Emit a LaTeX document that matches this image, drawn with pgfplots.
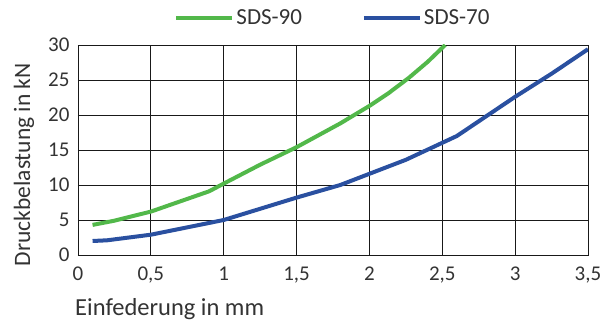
\documentclass[border=0pt]{standalone}
\usepackage{fontspec}
\setmainfont{Carlito}
\usepackage{pgfplots}
\pgfplotsset{compat=1.18}
\definecolor{sdsgreen}{RGB}{82,184,74}
\definecolor{sdsblue}{RGB}{42,80,160}
\begin{document}
\begin{tikzpicture}
\useasboundingbox (-78pt,-69pt) rectangle (533pt,255pt);
\begin{axis}[
  at={(0,0)}, anchor=south west,
  scale only axis, width=510pt, height=210pt,
  xmin=0, xmax=3.5, ymin=0, ymax=30,
  xtick distance=0.5, ytick distance=5,
  grid=major, major grid style={black!90, line width=0.8pt},
  axis line style={black!90, line width=0.8pt},
  major tick length=0pt,
  /pgf/number format/assume math mode=true,
  /pgf/number format/use comma,
  /pgf/number format/1000 sep={},
  tick label style={font=\fontsize{21}{24}\selectfont, text=black!80},
  xticklabel style={yshift=-8pt},
  yticklabel style={xshift=-5pt},
  xlabel={Einfederung in mm},
  ylabel={Druckbelastung in kN},
  xlabel style={font=\fontsize{24.5}{28}\selectfont, text=black!80, at={(axis description cs:0,0)}, anchor=north west, inner sep=0pt, yshift=-43pt, xshift=-3pt},
  ylabel style={font=\fontsize{23.5}{28}\selectfont, text=black!80, at={(axis description cs:-0.106,0.43)}, anchor=center, inner sep=0pt},
  legend columns=2,
  legend style={draw=none, fill=none, at={(axis description cs:0.5,1.13)}, anchor=center,
    font=\fontsize{23}{26}\selectfont, text=black!80,
    /tikz/every even column/.append style={column sep=58pt}},
  legend image code/.code={\draw[#1, line width=4pt] (0pt,0pt) -- (56pt,0pt);},
]
\addplot[sdsgreen, line width=4pt, line join=round] coordinates {
(0.10,4.3) (0.25,4.9) (0.50,6.2) (0.90,9.1) (1.00,10.2) (1.25,12.9) (1.50,15.4) (1.80,18.8) (2.00,21.3) (2.13,23.1) (2.27,25.3) (2.40,27.6) (2.52,30.0)
};
\addlegendentry{SDS-90}
\addplot[sdsblue, line width=4pt, line join=round] coordinates {
(0.10,2.0) (0.20,2.1) (0.50,2.9) (1.00,5.0) (1.50,8.2) (1.80,10.0) (2.00,11.6) (2.25,13.6) (2.60,17.0) (3.00,22.6) (3.25,25.9) (3.50,29.4)
};
\addlegendentry{SDS-70}
\end{axis}
\end{tikzpicture}
\end{document}
